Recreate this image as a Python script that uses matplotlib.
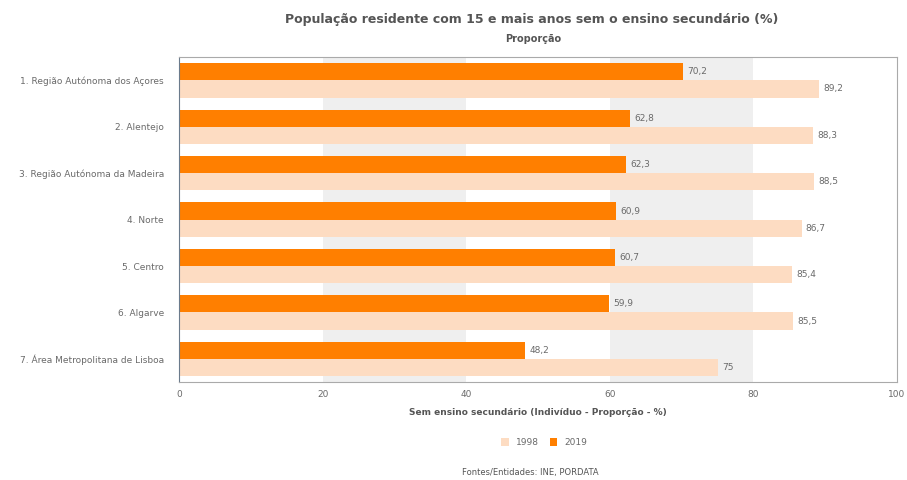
import matplotlib.pyplot as plt
import numpy as np

regions = ['1. Região Autónoma dos Açores', '2. Alentejo', '3. Região Autónoma da Madeira',
           '4. Norte', '5. Centro', '6. Algarve', '7. Área Metropolitana de Lisboa']
values_2019 = [70.2, 62.8, 62.3, 60.9, 60.7, 59.9, 48.2]
values_1998 = [89.2, 88.3, 88.5, 86.7, 85.4, 85.5, 75]
x_ticks = [0, 20, 40, 60, 80, 100]

orange = '#ff7f00'
peach = '#fddcc2'
grey_text = '#6a6a6a'

fig = plt.figure(figsize=(9.07, 4.8), dpi=100)
ax = fig.add_axes([0.1974, 0.204, 0.7916, 0.677])

# alternating background bands
for start in x_ticks[1::2][:-1]:
    ax.axvspan(start, start + 20, color='#efefef', zorder=0, lw=0)

y = np.arange(len(regions))
h = 0.37
ax.barh(y - h / 2, values_2019, height=h, color=orange, label='2019', zorder=2)
ax.barh(y + h / 2, values_1998, height=h, color=peach, label='1998', zorder=2)

def fmt(v):
    s = f'{v:.1f}'.replace('.', ',')
    return s[:-2] if s.endswith(',0') else s

for yi, v in zip(y, values_2019):
    ax.text(v + 0.6, yi - h / 2, fmt(v), va='center', ha='left', fontsize=6.5, color=grey_text)
for yi, v in zip(y, values_1998):
    ax.text(v + 0.6, yi + h / 2, fmt(v), va='center', ha='left', fontsize=6.5, color=grey_text)

ax.set_xlim(0, 100)
ax.set_ylim(len(regions) - 0.5, -0.5)
ax.set_xticks(x_ticks)
ax.set_xticklabels([str(t) for t in x_ticks], fontsize=6.5, color=grey_text)
ax.set_yticks(y)
ax.set_yticklabels(regions, fontsize=6.5, color=grey_text)
ax.tick_params(axis='y', length=0, pad=11)
ax.tick_params(axis='x', length=0, pad=6)
for side in ['top', 'right', 'bottom']:
    ax.spines[side].set_color('#aaaaaa')
ax.spines['left'].set_color('#6b7b8c')

ax.set_xlabel('Sem ensino secundário (Indivíduo - Proporção - %)', fontsize=6.5,
              fontweight='bold', color='#555555', labelpad=6)

fig.text(0.586, 0.952, 'População residente com 15 e mais anos sem o ensino secundário (%)',
         ha='center', fontsize=9, fontweight='bold', color='#555555')
fig.text(0.588, 0.912, 'Proporção', ha='center', fontsize=7, fontweight='bold', color='#555555')

handles, labels = ax.get_legend_handles_labels()
fig.legend(handles[::-1], labels[::-1], loc='center', bbox_to_anchor=(0.6, 0.079), ncol=2,
           frameon=False, fontsize=6.5, handlelength=0.8, handleheight=1.0,
           columnspacing=1.2, labelcolor=grey_text)

fig.text(0.585, 0.01, 'Fontes/Entidades: INE, PORDATA', ha='center', fontsize=6, color='#555555')

plt.savefig('out.png', dpi=100)
